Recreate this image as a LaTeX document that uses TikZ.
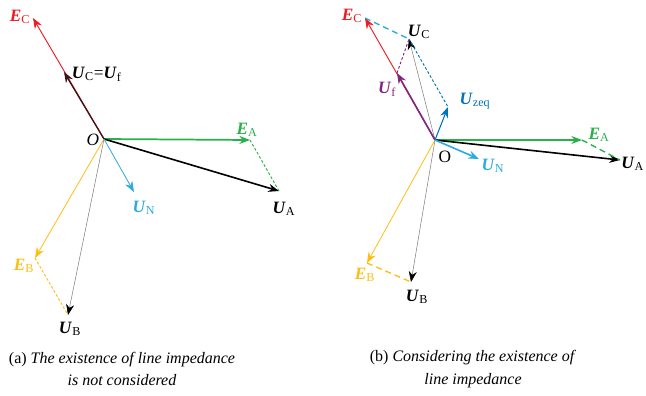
\documentclass[tikz,border=0pt]{standalone}
\usepackage{fontspec}
\setmainfont{Liberation Serif}
\usetikzlibrary{arrows.meta}
\definecolor{ered}{RGB}{237,28,36}
\definecolor{egreen}{RGB}{40,176,75}
\definecolor{eyellow}{RGB}{253,190,20}
\definecolor{nblue}{RGB}{41,171,226}
\definecolor{zblue}{RGB}{0,114,188}
\definecolor{fpurple}{RGB}{128,38,128}
\definecolor{cbrown}{RGB}{60,20,24}
\newcommand{\phasor}[2]{\textbf{\textit{#1}}\textsubscript{\mdseries\upshape #2}}
\tikzset{
  vec/.style={-{Stealth[length=8pt,width=6pt]},line width=1pt},
  thinvec/.style={-{Stealth[length=8pt,width=6pt,black]},draw=gray,line width=0.4pt},
  diffa/.style={dash pattern=on 2pt off 1.5pt,line width=0.7pt},
  diffb/.style={dash pattern=on 4.5pt off 3pt,line width=1pt},
  lbl/.style={font=\fontsize{13}{14}\selectfont,inner sep=0.5pt},
  capt/.style={font=\fontsize{12}{17}\selectfont,align=center}
}

\begin{document}
\begin{tikzpicture}[x=0.75pt,y=-0.75pt]
\useasboundingbox (0,0) rectangle (646,396);

% (a) line impedance not considered
\coordinate (Oa) at (104,139);
\coordinate (ECa) at (33,18);
\coordinate (UCa) at (64,72);
\coordinate (EAa) at (250,140);
\coordinate (UAa) at (279,191);
\coordinate (UNa) at (134,192);
\coordinate (EBa) at (35,258);
\coordinate (UBa) at (68,315);

\draw[vec,ered,line width=0.7pt] (Oa) -- (ECa);
\draw[vec,cbrown] (Oa) -- (UCa);
\draw[vec,egreen,line width=1.3pt] (Oa) -- (EAa);
\draw[vec,black,line width=1.2pt] (Oa) -- (UAa);
\draw[vec,nblue,line width=0.6pt] (Oa) -- (UNa);
\draw[vec,eyellow,line width=0.6pt] (Oa) -- (EBa);
\draw[thinvec] (Oa) -- (UBa);
\draw[diffa,egreen] (EAa) -- (UAa);
\draw[diffa,eyellow] (EBa) -- (UBa);

\node[lbl,anchor=east] (lOa) at (100,140) {\textit{O}};
\node[lbl,text=ered] (lECa) at (20,17) {\phasor{E}{C}};
\node[lbl,anchor=west] (lUCa) at (71,74) {\phasor{U}{C}=\phasor{U}{f}};
\node[lbl,text=egreen] (lEAa) at (247,130) {\phasor{E}{A}};
\node[lbl] (lUAa) at (284,209) {\phasor{U}{A}};
\node[lbl,text=nblue] (lUNa) at (144,208) {\phasor{U}{N}};
\node[lbl,text=eyellow] (lEBa) at (24,266) {\phasor{E}{B}};
\node[lbl] (lUBa) at (70,329) {\phasor{U}{B}};

\node[capt] (capa) at (122,369) {(a) \textit{The existence of line impedance}\\\textit{is not considered}};

% (b) line impedance considered
\coordinate (Ob) at (435,140);
\coordinate (ECb) at (365,18);
\coordinate (UCb) at (409,39);
\coordinate (Ufb) at (397,73);
\coordinate (Uzb) at (448,107);
\coordinate (EAb) at (582,140);
\coordinate (UAb) at (620,160);
\coordinate (UNb) at (479,159);
\coordinate (EBb) at (367,263);
\coordinate (UBb) at (411,282);

\draw[vec,ered,line width=0.7pt] (Ob) -- (ECb);
\draw[thinvec] (Ob) -- (UCb);
\draw[vec,fpurple,line width=1.2pt] (Ob) -- (Ufb);
\draw[vec,zblue,line width=0.8pt] (Ob) -- (Uzb);
\draw[vec,egreen] (Ob) -- (EAb);
\draw[vec,black,line width=1.2pt] (Ob) -- (UAb);
\draw[vec,nblue,line width=1.2pt] (Ob) -- (UNb);
\draw[vec,eyellow,line width=0.6pt] (Ob) -- (EBb);
\draw[thinvec] (Ob) -- (UBb);
\draw[diffb,nblue] (ECb) -- (UCb);
\draw[diffa,zblue] (UCb) -- (Uzb);
\draw[diffa,fpurple] (Ufb) -- (UCb);
\draw[diffb,egreen] (EAb) -- (UAb);
\draw[diffb,eyellow] (EBb) -- (UBb);

\node[lbl] (lOb) at (445,157) {O};
\node[lbl,text=ered] (lECb) at (352,16) {\phasor{E}{C}};
\node[lbl] (lUCb) at (419,32) {\phasor{U}{C}};
\node[lbl,text=fpurple] (lUfb) at (387,89) {\phasor{U}{f}};
\node[lbl,text=zblue] (lUzb) at (475,101) {\phasor{U}{zeq}};
\node[lbl,text=egreen] (lEAb) at (599,135) {\phasor{E}{A}};
\node[lbl,anchor=east] (lUAb) at (645,164) {\phasor{U}{A}};
\node[lbl,text=nblue] (lUNb) at (493,166) {\phasor{U}{N}};
\node[lbl,text=eyellow] (lEBb) at (365,275) {\phasor{E}{B}};
\node[lbl] (lUBb) at (417,297) {\phasor{U}{B}};

\node[capt] (capb) at (473,369) {(b) \textit{Considering the existence of}\\\textit{line impedance}};
\end{tikzpicture}
\end{document}
